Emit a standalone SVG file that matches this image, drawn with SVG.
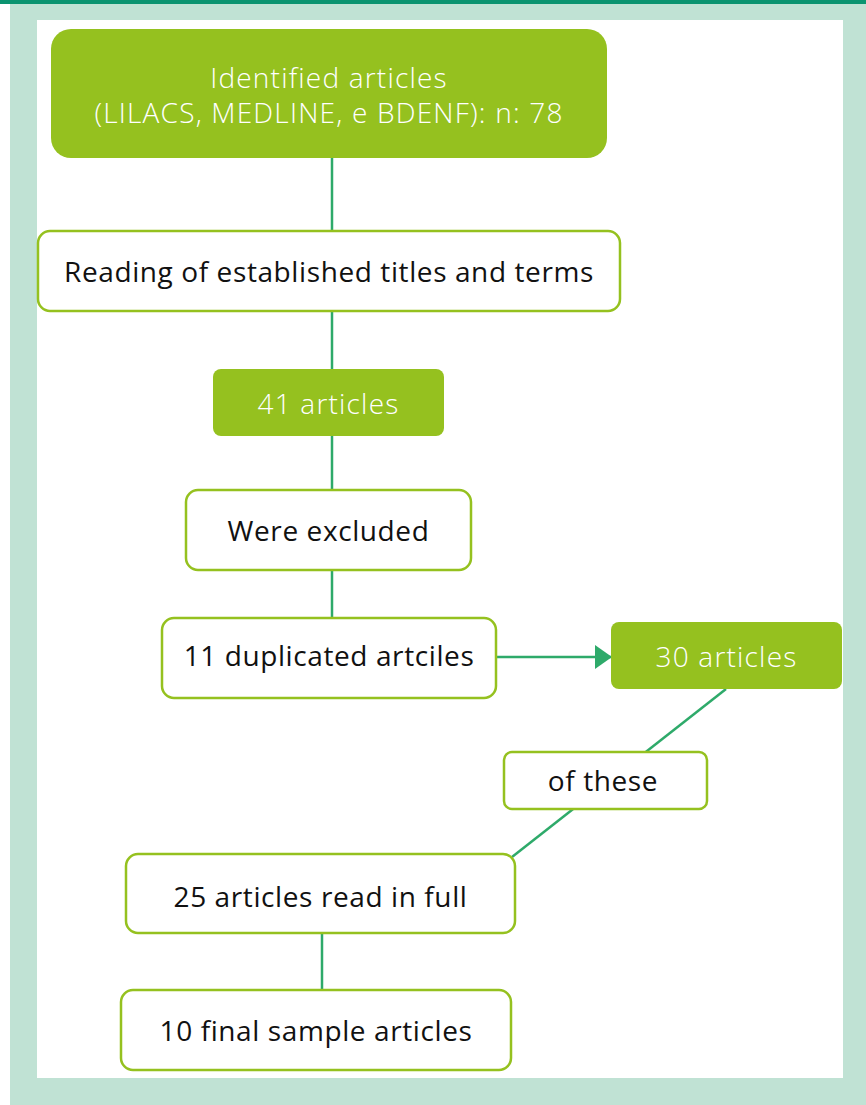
<svg xmlns="http://www.w3.org/2000/svg" width="866" height="1105" viewBox="0 0 866 1105">
<defs>
<style>
.g{fill:#95c11f;}
.w{fill:#ffffff;stroke:#95c11f;stroke-width:2.5;}
.tw{fill:#ffffff;font-family:"Open Sans","Noto Sans",sans-serif;font-size:28px;font-weight:300;letter-spacing:1.2px;text-anchor:middle;dominant-baseline:central;}
.tb{fill:#111111;font-family:"Open Sans","Noto Sans",sans-serif;font-size:28px;letter-spacing:0.6px;text-anchor:middle;dominant-baseline:central;}
.c{stroke:#2eaa6a;stroke-width:2.5;fill:none;}
</style>
<marker id="ah" markerWidth="17" markerHeight="26" refX="16" refY="13" orient="auto" markerUnits="userSpaceOnUse">
<path d="M0,1 L17,13 L0,25 Z" fill="#2eaa6a"/>
</marker>
</defs>
<rect x="0" y="0" width="866" height="1105" fill="#ffffff"/>
<rect x="10" y="4" width="856" height="1101" fill="#c0e2d4"/>
<rect x="0" y="0" width="866" height="4" fill="#0b9470"/>
<rect x="37" y="20" width="806" height="1058" fill="#ffffff"/>
<g id="connectors">
<line class="c" x1="332" y1="158" x2="332" y2="231"/>
<line class="c" x1="332" y1="311" x2="332" y2="369"/>
<line class="c" x1="332" y1="436" x2="332" y2="490"/>
<line class="c" x1="332" y1="570" x2="332" y2="618"/>
<line class="c" x1="496" y1="657" x2="611" y2="657" marker-end="url(#ah)"/>
<line class="c" x1="726" y1="689" x2="512" y2="857"/>
<line class="c" x1="322" y1="933" x2="322" y2="990"/>
</g>
<g id="n1">
<rect class="g" x="51" y="29" width="556" height="129" rx="20"/>
<text class="tw" x="329" y="77">Identified articles</text>
<text class="tw" x="329" y="112">(LILACS, MEDLINE, e BDENF): n: 78</text>
</g>
<g id="n2">
<rect class="w" x="38" y="231" width="582" height="80" rx="12"/>
<text class="tb" x="329" y="271">Reading of established titles and terms</text>
</g>
<g id="n3">
<rect class="g" x="213" y="369" width="231" height="67" rx="8"/>
<text class="tw" x="328.5" y="403">41 articles</text>
</g>
<g id="n4">
<rect class="w" x="186" y="490" width="285" height="80" rx="12"/>
<text class="tb" x="328.5" y="530">Were excluded</text>
</g>
<g id="n5">
<rect class="w" x="162" y="618" width="334" height="80" rx="12"/>
<text class="tb" x="329" y="655">11 duplicated artciles</text>
</g>
<g id="n6">
<rect class="g" x="611" y="622" width="231" height="67" rx="8"/>
<text class="tw" x="726.5" y="656">30 articles</text>
</g>
<g id="n7">
<rect class="w" x="504" y="752" width="203" height="57" rx="8"/>
<text class="tb" x="603" y="780">of these</text>
</g>
<g id="n8">
<rect class="w" x="126" y="854" width="389" height="79" rx="12"/>
<text class="tb" x="320.5" y="896">25 articles read in full</text>
</g>
<g id="n9">
<rect class="w" x="121" y="990" width="390" height="80" rx="12"/>
<text class="tb" x="316" y="1030">10 final sample articles</text>
</g>
</svg>
